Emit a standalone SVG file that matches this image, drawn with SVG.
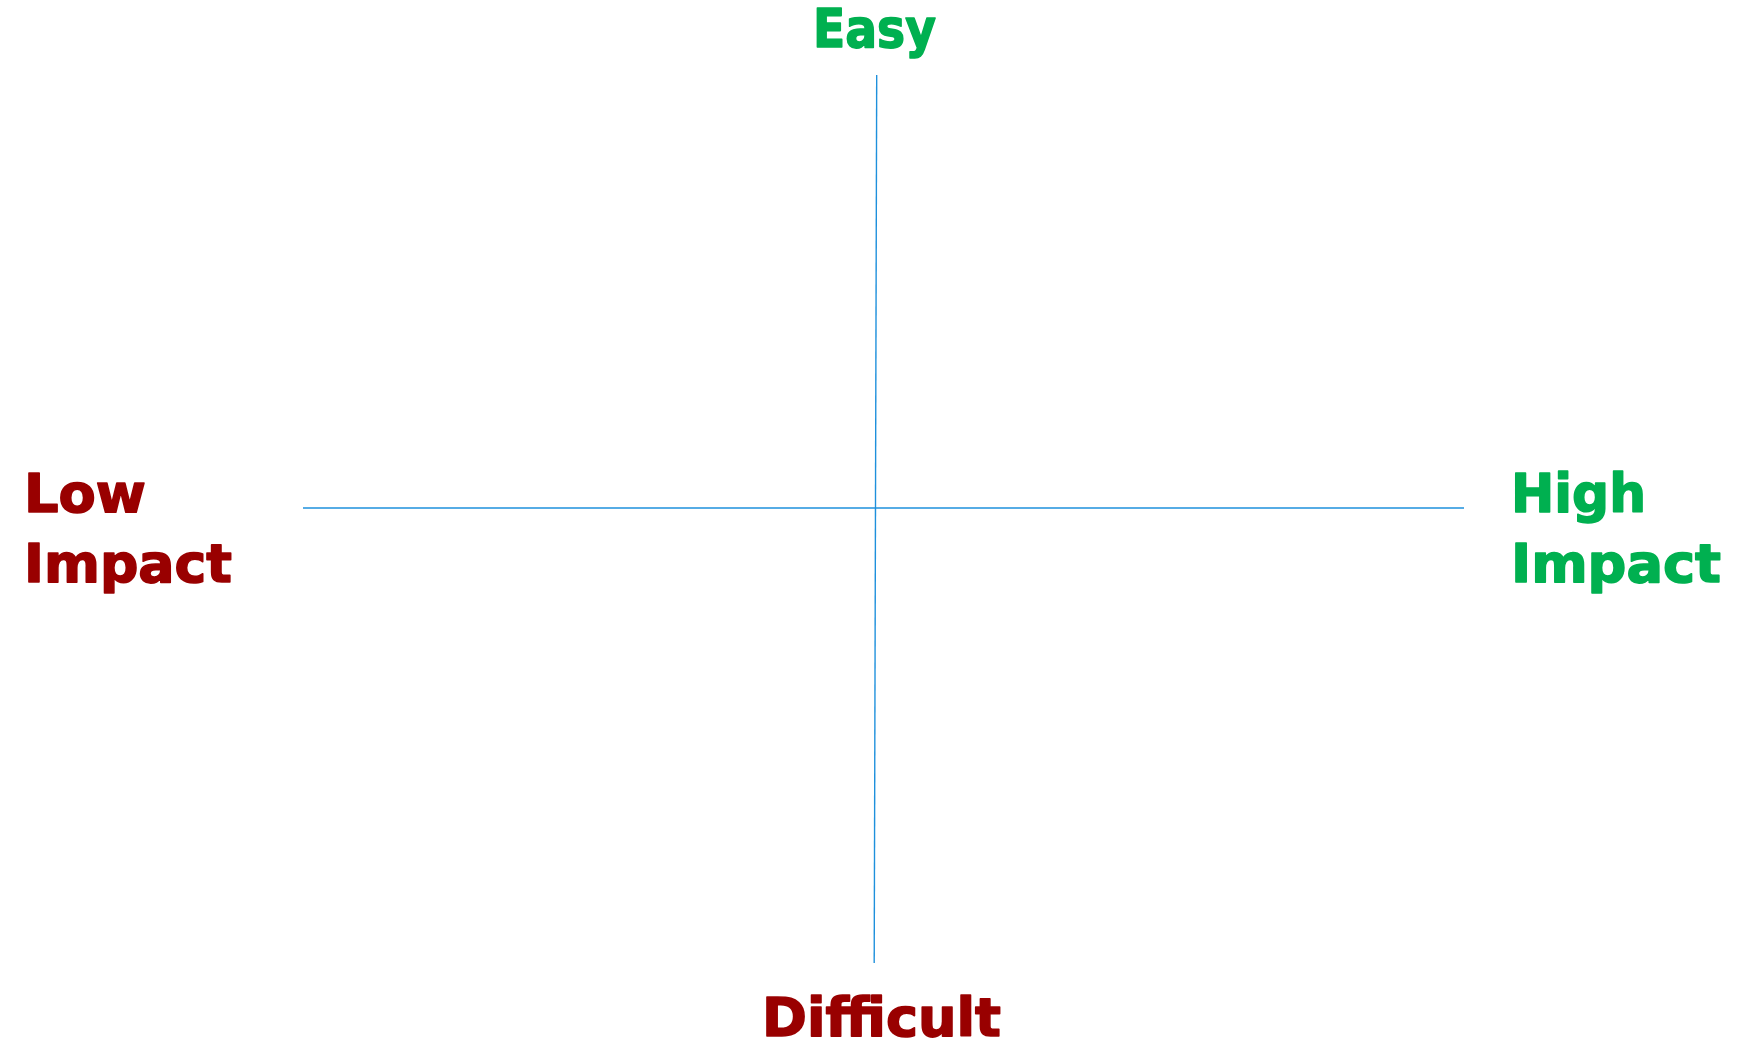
<svg xmlns="http://www.w3.org/2000/svg" width="1748" height="1041" viewBox="0 0 1748 1041">
<style>
.lbl{font-family:"DejaVu Sans","Liberation Sans",sans-serif;font-weight:bold;font-size:54px;stroke-width:1.6;stroke-linejoin:round}
.g{fill:#00b050;stroke:#00b050}
.r{fill:#990000;stroke:#990000}
.ax{stroke:#1e90dc;stroke-width:1.4;fill:none}
</style>
<rect width="1748" height="1041" fill="#ffffff"/>
<g id="connectors">
<line class="ax" x1="876.7" y1="75" x2="874.2" y2="963"/>
<line class="ax" x1="303" y1="508" x2="1464" y2="508"/>
</g>
<g id="easy"><text class="lbl g" x="813" y="47" textLength="123" lengthAdjust="spacingAndGlyphs">Easy</text></g>
<g id="difficult"><text class="lbl r" x="762" y="1036" textLength="239" lengthAdjust="spacingAndGlyphs">Difficult</text></g>
<g id="low-impact">
<text class="lbl r" x="24" y="512" textLength="122" lengthAdjust="spacingAndGlyphs">Low</text>
<text class="lbl r" x="24" y="582" textLength="208" lengthAdjust="spacingAndGlyphs">Impact</text>
</g>
<g id="high-impact">
<text class="lbl g" x="1511" y="512" textLength="135" lengthAdjust="spacingAndGlyphs">High</text>
<text class="lbl g" x="1511" y="582" textLength="210" lengthAdjust="spacingAndGlyphs">Impact</text>
</g>
</svg>
